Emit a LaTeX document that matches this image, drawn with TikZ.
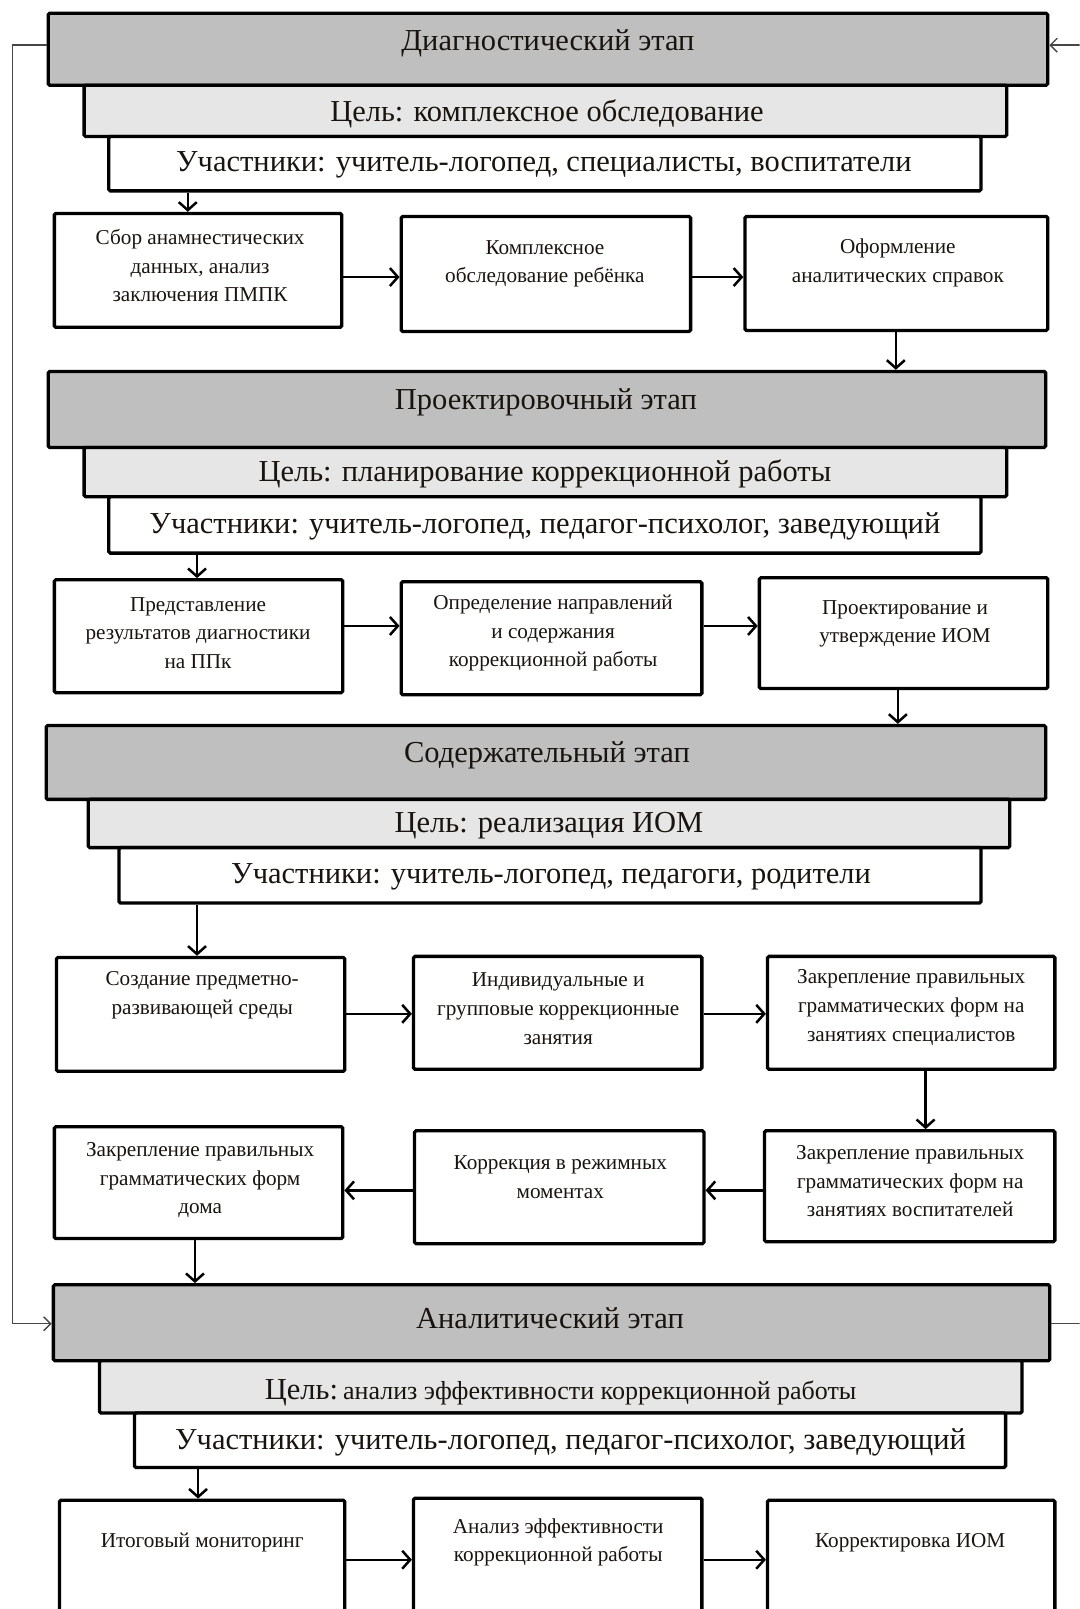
\documentclass[tikz,border=0pt]{standalone}
\usepackage{fontspec}
\setmainfont{Liberation Serif}
\usetikzlibrary{arrows.meta,fit}
\definecolor{hdrgray}{RGB}{191,191,191}
\definecolor{goalgray}{RGB}{230,230,230}
\definecolor{txtcol}{RGB}{25,20,15}
\definecolor{loopcol}{RGB}{70,70,70}
\begin{document}
\begin{tikzpicture}[x=1.0266pt,y=-1.0266pt,
  frame/.style={draw=black, line width=3.3pt, rounded corners=1.5pt, inner sep=0pt},
  hdr/.style={frame, fill=hdrgray},
  goal/.style={frame, fill=goalgray},
  part/.style={frame, fill=white},
  stepbox/.style={frame, fill=white},
  big/.style={font=\fontsize{30.5}{36}\selectfont, text=txtcol, inner sep=0pt},
  small/.style={font=\fontsize{21.2}{28.7}\selectfont, align=center, text=txtcol, inner sep=0pt},
  arr/.style={line width=2.5pt, -{Straight Barb[length=8pt,width=18pt]}},
  looparr/.style={draw=loopcol, line width=1.4pt, -{Straight Barb[length=7pt,width=14pt]}},
  loopline/.style={draw=loopcol, line width=1.4pt}
]
\useasboundingbox (0,0) rectangle (1052,1568);
\clip (0,0) rectangle (1052,1568);

% ---------- Stage 1 ----------
\node[hdr, fit={(47,13)(1021,83)}] (dh) {};
\node[goal, fit={(82,83)(981,133)}] (dg) {};
\node[part, fit={(106,133)(956,186)}] (dp) {};
\node[big] (dht) at (534,42.5) {Диагностический этап};
\node[big] (dgt) at (533,110.5) {Цель: комплексное обследование};
\node[big] (dpt) at (530,160.5) {Участники: учитель-логопед, специалисты, воспитатели};

\node[stepbox, fit={(53,208)(333,319)}] (b1) {};
\node[stepbox, fit={(391,211)(673,323)}] (b2) {};
\node[stepbox, fit={(726,211)(1021,322)}] (b3) {};
\node[small] (b1t) at (195,259) {Сбор анамнестических\\данных, анализ\\заключения ПМПК};
\node[small] (b2t) at (531,257) {Комплексное\\обследование ребёнка};
\node[small] (b3t) at (875,256) {Оформление\\аналитических справок};

% ---------- Stage 2 ----------
\node[hdr, fit={(47,362)(1019,436)}] (ph) {};
\node[goal, fit={(82,436)(981,484)}] (pg) {};
\node[part, fit={(106,484)(956,539)}] (pp) {};
\node[big] (pht) at (532,392.5) {Проектировочный этап};
\node[big] (pgt) at (531,461.5) {Цель: планирование коррекционной работы};
\node[big] (ppt) at (531,512.5) {Участники: учитель-логопед, педагог-психолог, заведующий};

\node[stepbox, fit={(53,565)(334,675)}] (b4) {};
\node[stepbox, fit={(391,567)(684,677)}] (b5) {};
\node[stepbox, fit={(740,563)(1021,671)}] (b6) {};
\node[small] (b4t) at (193,617) {Представление\\результатов диагностики\\на ППк};
\node[small] (b5t) at (539,617) {Определение направлений\\и содержания\\коррекционной работы};
\node[small] (b6t) at (882,608) {Проектирование и\\утверждение ИОМ};

% ---------- Stage 3 ----------
\node[hdr, fit={(45,707)(1019,779)}] (sh) {};
\node[goal, fit={(86,779)(984,826)}] (sg) {};
\node[part, fit={(116,826)(956,880)}] (sp) {};
\node[big] (sht) at (533,736.5) {Содержательный этап};
\node[big] (sgt) at (535,804.5) {Цель: реализация ИОМ};
\node[big] (spt) at (537,854.5) {Участники: учитель-логопед, педагоги, родители};

\node[stepbox, fit={(55,933)(336,1044)}] (b7) {};
\node[stepbox, fit={(403,932)(684,1042)}] (b8) {};
\node[stepbox, fit={(748,932)(1028,1042)}] (b9) {};
\node[small] (b7t) at (197,970) {Создание предметно-\\развивающей среды};
\node[small] (b8t) at (544,983) {Индивидуальные и\\групповые коррекционные\\занятия};
\node[small] (b9t) at (888,982) {Закрепление правильных\\грамматических форм на\\занятиях специалистов};

\node[stepbox, fit={(53,1098)(334,1207)}] (b10) {};
\node[stepbox, fit={(404,1102)(686,1212)}] (b11) {};
\node[stepbox, fit={(745,1102)(1028,1210)}] (b12) {};
\node[small] (b10t) at (195,1150) {Закрепление правильных\\грамматических форм\\дома};
\node[small] (b11t) at (546,1147) {Коррекция в режимных\\моментах};
\node[small] (b12t) at (887,1151) {Закрепление правильных\\грамматических форм на\\занятиях воспитателей};

% ---------- Stage 4 ----------
\node[hdr, fit={(52,1252)(1023,1326)}] (ah) {};
\node[goal, fit={(97,1326)(996,1377)}] (ag) {};
\node[part, fit={(131,1377)(980,1430)}] (ap) {};
\node[big] (aht) at (536,1284.5) {Аналитический этап};
\node[big, anchor=base west] (agt) at (258,1364) {Цель:\,{\fontsize{26}{30}\selectfont анализ эффективности коррекционной работы}};
\node[big] (apt) at (556,1405.5) {Участники: учитель-логопед, педагог-психолог, заведующий};

\node[stepbox, fit={(58,1462)(336,1600)}] (b13) {};
\node[stepbox, fit={(403,1460)(684,1600)}] (b14) {};
\node[stepbox, fit={(748,1462)(1028,1600)}] (b15) {};
\node[small] (b13t) at (197,1503) {Итоговый мониторинг};
\node[small] (b14t) at (544,1503) {Анализ эффективности\\коррекционной работы};
\node[small] (b15t) at (887,1503) {Корректировка ИОМ};

% ---------- Connectors ----------
\draw[arr] (183,0 |- dp.south) -- (183,0 |- b1.north);
\draw[arr] (b1.east |- 0,270) -- (b2.west |- 0,270);
\draw[arr] (b2.east |- 0,270) -- (b3.west |- 0,270);
\draw[arr] (873,0 |- b3.south) -- (873,0 |- ph.north);

\draw[arr] (192,0 |- pp.south) -- (192,0 |- b4.north);
\draw[arr] (b4.east |- 0,610) -- (b5.west |- 0,610);
\draw[arr] (b5.east |- 0,610) -- (b6.west |- 0,610);
\draw[arr] (875,0 |- b6.south) -- (875,0 |- sh.north);

\draw[arr] (192,0 |- sp.south) -- (192,0 |- b7.north);
\draw[arr] (b7.east |- 0,988) -- (b8.west |- 0,988);
\draw[arr] (b8.east |- 0,988) -- (b9.west |- 0,988);
\draw[arr] (902,0 |- b9.south) -- (902,0 |- b12.north);
\draw[arr] (b12.west |- 0,1160) -- (b11.east |- 0,1160);
\draw[arr] (b11.west |- 0,1160) -- (b10.east |- 0,1160);
\draw[arr] (190,0 |- b10.south) -- (190,0 |- ah.north);

\draw[arr] (193,0 |- ap.south) -- (193,0 |- b13.north);
\draw[arr] (b13.east |- 0,1520) -- (b14.west |- 0,1520);
\draw[arr] (b14.east |- 0,1520) -- (b15.west |- 0,1520);

% feedback loop
\coordinate (rin) at (1052,44);
\coordinate (rout) at (1052,1290);
\draw[loopline] (dh.west |- 0,44) -- (12,44) -- (12,1290);
\draw[looparr] (12,1290) -- (ah.west |- 0,1290);
\draw[looparr] (rin) -- (dh.east |- rin);
\draw[loopline] (ah.east |- rout) -- (rout);
\end{tikzpicture}
\end{document}
